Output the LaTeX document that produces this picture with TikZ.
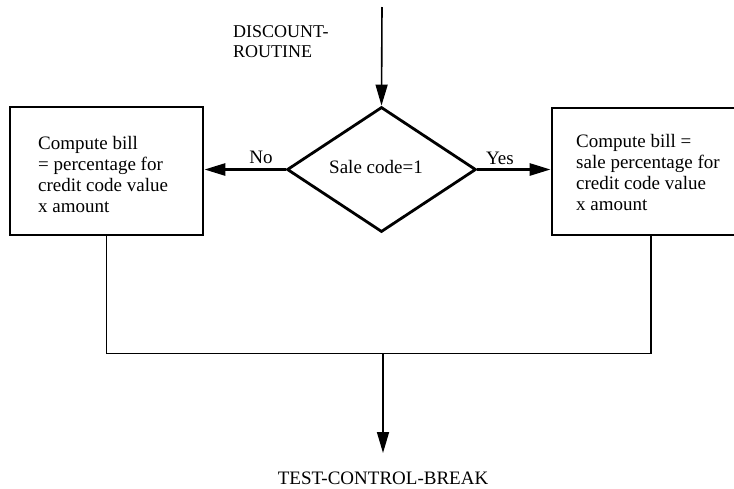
\documentclass[tikz,border=0pt]{standalone}
\usepackage{fontspec}
\setmainfont{Liberation Serif}
\usetikzlibrary{shapes.geometric,arrows.meta}

\tikzset{
  heavy/.style={line width=2.8pt},
  light/.style={line width=1.6pt},
  procbox/.style={draw, heavy, rectangle, inner sep=0pt},
  decision/.style={draw, heavy, diamond, inner sep=0pt,
    minimum width=189pt, minimum height=125pt},
  txt/.style={inner sep=0pt, align=left, font=\fontsize{19}{21}\selectfont},
  flowtip/.style={-{Triangle[length=21pt,width=12pt]}},
}

\begin{document}
\begin{tikzpicture}[x=1pt,y=-1pt]
  \useasboundingbox (0,0) rectangle (734,488);
  \clip (0,0) rectangle (734,488);

  % decision
  \node[decision] (dec) at (381.5,169.5) {};
  \node[txt] (dectext) at (376,167) {Sale code=1};

  % process boxes
  \node[procbox, minimum width=193pt, minimum height=128pt] (lbox) at (106.5,171) {};
  \node[procbox, minimum width=198pt, minimum height=127pt] (rbox) at (651,171.5) {};
  \node[txt, anchor=west] (ltext) at (38,174)
    {Compute bill\\= percentage for\\credit code value\\x amount};
  \node[txt, anchor=west] (rtext) at (576,172)
    {Compute bill =\\sale percentage for\\credit code value\\x amount};

  % entry
  \coordinate (entry) at (382,7);
  \node[txt, anchor=west, font=\fontsize{18}{20}\selectfont] (entrylabel) at (233,42)
    {DISCOUNT-\\ROUTINE};
  \draw[light, flowtip] (entry) -- (dec.north);

  % branches
  \draw[heavy, flowtip] (dec.west) -- (dec.west -| lbox.east);
  \draw[heavy, flowtip] (dec.east) -- (dec.east -| rbox.west);
  \node[txt] (nolabel) at (261,157) {No};
  \node[txt] (yeslabel) at (500,158) {Yes};

  % merge and exit
  \coordinate (join) at (383,353.5);
  \coordinate (exit) at (383,453);
  \draw[light] (lbox.south) -- (lbox.south |- join) -- (rbox.south |- join) -- (rbox.south);
  \draw[light, flowtip] (join) -- (exit);
  \node[txt] (exitlabel) at (383,478) {TEST-CONTROL-BREAK};
\end{tikzpicture}
\end{document}
